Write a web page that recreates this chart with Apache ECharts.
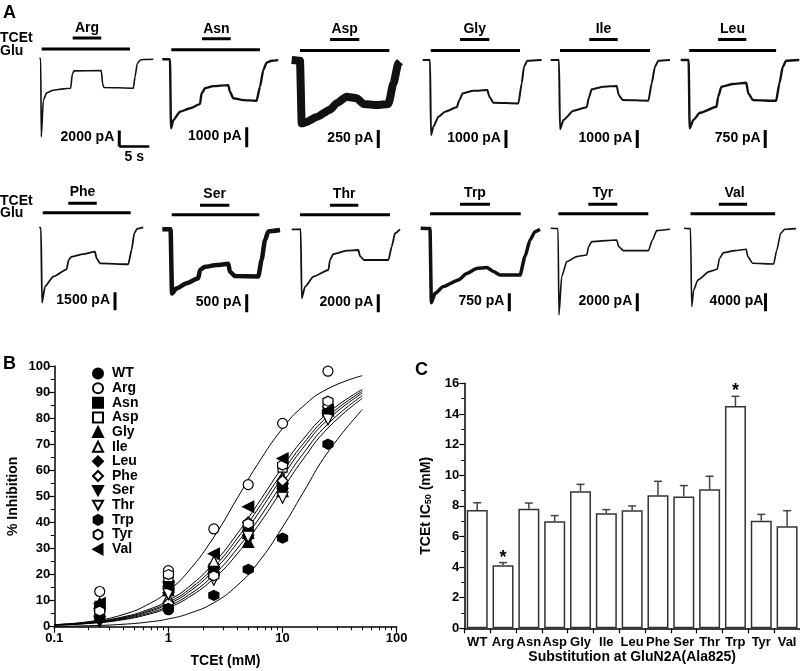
<!DOCTYPE html>
<html>
<head>
<meta charset="utf-8">
<script src="https://cdn.jsdelivr.net/npm/echarts@6/dist/echarts.min.js"></script>
<style>
  html, body { margin: 0; padding: 0; background: #fff; }
  #chart { width: 800px; height: 671px; }
</style>
</head>
<body>
<div id="chart"></div>
<script>
var FONT = '"Liberation Sans", Arial, sans-serif';

// ---- Panel A: whole-cell current traces, [time (s), current (pA)] ----
var traceNames = ['Arg', 'Asn', 'Asp', 'Gly', 'Ile', 'Leu', 'Phe', 'Ser', 'Thr', 'Trp', 'Tyr', 'Val'];
var scalePA = [2000, 1000, 250, 1000, 1000, 750, 1500, 500, 2000, 750, 2000, 4000];
var gluOn = [0.4, 1.5, 1.38, 1.33, 1.55, 1.43, 0.57, 1.57, 1.38, 1.55, 1.27, 1.12];
var gluOff = [15.12, 16.28, 16.27, 16.22, 16.55, 16, 15.23, 16.17, 16.38, 16.67, 16.27, 15.72];
var tcetOn = [5.57, 6.62, 6.38, 6.22, 6.43, 6.27, 4.83, 6.28, 6.38, 6.55, 6.27, 6];
var tcetOff = [10.33, 11.4, 11.27, 11.1, 11.17, 11, 9.57, 11.17, 11.1, 11.55, 11.1, 10.88];

var argTrace = [[0,0],[0.23,0],[0.33,-9800],[0.67,-5210],[1.23,-4300],[2.33,-3960],[4,-3800],[5.23,-3710],[5.5,-1960],[5.78,-1550],[10.33,-1500],[10.57,-3210],[10.78,-3620],[15.67,-3710],[15.95,-2300],[16.33,-625],[16.78,-210],[17.33,-125],[19,-90]];
var asnTrace = [[0,0],[1.28,0],[1.45,-3450],[1.83,-3040],[2.95,-2620],[4.62,-2450],[6.28,-2240],[6.55,-1700],[7.12,-1450],[8.5,-1340],[11,-1290],[11.28,-1620],[11.83,-1950],[13.5,-2040],[15.72,-2070],[16.28,-1370],[16.83,-540],[17.38,-170],[18.22,-70],[19.33,-40]];
var aspTrace = [[0,0],[1.38,-10],[1.67,-880],[2.5,-860],[4.17,-790],[6.38,-690],[7.5,-600],[9.17,-510],[10.83,-530],[11.95,-610],[14.17,-625],[16.12,-610],[16.95,-325],[17.78,-45],[18.05,-25]];
var glyTrace = [[0,0],[1.22,0],[1.38,-4170],[1.78,-3710],[2.62,-3150],[3.72,-2870],[5.67,-2630],[6.12,-2220],[6.67,-1850],[8.45,-1710],[10.78,-1670],[11.12,-2040],[11.78,-2370],[15.95,-2410],[16.5,-1300],[16.88,-370],[17.45,-40],[19.83,0]];
var ileTrace = [[0,0],[1.38,0],[1.55,-3850],[2.12,-3340],[3.78,-2820],[6,-2630],[6.33,-2130],[6.83,-1630],[8.78,-1480],[11,-1440],[11.33,-1940],[12,-2220],[16.28,-2260],[16.83,-1300],[17.38,-370],[17.95,-40],[19.88,0]];
var leuTrace = [[0,0],[1.33,0],[1.5,-2850],[2.12,-2500],[3.22,-2200],[6,-1950],[6.28,-1530],[6.83,-1110],[8.78,-1000],[11,-950],[11.33,-1390],[12.12,-1670],[16,-1700],[16.55,-970],[17.12,-280],[17.67,-30],[19.88,0]];
var pheTrace = [[0,0],[0.28,-80],[0.45,-6280],[0.95,-4940],[2.33,-4110],[4.55,-3500],[4.88,-2730],[5.38,-2440],[7.33,-2230],[9.28,-2030],[9.55,-2590],[10.12,-3000],[14.83,-3080],[15.38,-1890],[15.83,-500],[16.33,-110],[17.33,0]];
var serTrace = [[0,0],[1.38,0],[1.62,-1780],[2.38,-1640],[4.05,-1500],[6,-1360],[6.28,-1130],[7.12,-1040],[9.05,-990],[11,-960],[11.28,-1180],[12.12,-1300],[16,-1310],[16.55,-850],[17.12,-300],[17.67,-60],[19.62,-20]];
var thrTrace = [[0,0],[1.5,0],[1.67,-7670],[2.22,-6370],[3.62,-5260],[6.12,-4520],[6.38,-3410],[6.95,-2740],[9.17,-2370],[11.12,-2300],[11.38,-2970],[12.05,-3410],[16.12,-3410],[16.67,-1920],[17.22,-440],[18.05,0]];
var trpTrace = [[0,0],[1.55,-10],[1.78,-3100],[2.38,-2710],[3.78,-2430],[6.28,-2150],[7.67,-1880],[9.33,-1670],[11,-1630],[12.12,-1800],[13.22,-1950],[16.55,-1950],[17.38,-1180],[18.22,-490],[19.05,-140],[19.88,-40]];
var tyrTrace = [[0,0],[1.22,-30],[1.38,-9630],[1.83,-5370],[2.67,-3700],[4.33,-3150],[6,-2970],[6.33,-2030],[6.83,-1480],[9.33,-1370],[11,-1300],[11.33,-2030],[12.12,-2480],[16.28,-2480],[16.95,-1300],[17.67,-260],[19.88,-110]];
var valTrace = [[0,0],[1.12,-70],[1.33,-17400],[1.67,-13710],[2.38,-11490],[4.33,-9620],[5.72,-9110],[6.12,-6670],[6.83,-5400],[8.78,-4960],[10.72,-4670],[11,-6290],[11.83,-7780],[15.45,-7930],[16,-4820],[16.67,-1110],[17.38,-220],[19.33,-70]];
var traces = [argTrace, asnTrace, aspTrace, glyTrace, ileTrace, leuTrace, pheTrace, serTrace, thrTrace, trpTrace, tyrTrace, valTrace];

// ---- Panel B: % inhibition vs TCEt (mM) ----
var conc = [0.25, 1, 2.5, 5, 10, 25];
var groups = ['WT', 'Arg', 'Asn', 'Asp', 'Gly', 'Ile', 'Leu', 'Phe', 'Ser', 'Thr', 'Trp', 'Tyr', 'Val'];
var inhWT  = [8, 6.5, 23, 38, 53.5, 83];
var inhArg = [13.5, 21.5, 37.5, 54.5, 78, 98];
var inhAsn = [8, 16, 22, 36, 54, 84];
var inhAsp = [6, 19, 22.5, 38.5, 61, 85.5];
var inhGly = [9, 14, 24, 32.5, 52, 84];
var inhIle = [6, 11, 25, 36, 57, 83];
var inhLeu = [7, 13, 21, 37, 55, 82.5];
var inhPhe = [6, 9, 19.5, 40, 56, 84.5];
var inhSer = [2, 15, 21, 33, 51, 80];
var inhThr = [5, 12.5, 18, 34.5, 49.5, 79.5];
var inhTrp = [3, 7, 12, 22, 34, 70];
var inhTyr = [6, 20, 19.5, 39.5, 62, 86.5];
var inhVal = [9, 15.5, 28, 46, 64.5, 83];
var inh = [inhWT, inhArg, inhAsn, inhAsp, inhGly, inhIle, inhLeu, inhPhe, inhSer, inhThr, inhTrp, inhTyr, inhVal];

// fitted curves read along these concentrations
var fitX = [0.1, 0.2, 0.4, 0.7, 1, 1.5, 2.5, 4, 6, 10, 15, 25, 50];
var fitArg = [0.79, 1.93, 4.63, 9.1, 13.8, 21.3, 34.4, 49.2, 62.1, 76.1, 84.4, 91.3, 96.3];
var fitTrp = [0.15, 0.38, 0.93, 1.91, 3.0, 5.0, 9.2, 15.8, 24.1, 38.2, 51.1, 67.0, 83.3];
var fitB1 = [0.79, 1.73, 3.76, 6.94, 10.1, 15.2, 24.4, 35.6, 46.8, 61.3, 71.7, 82.0, 91.0];
var fitB2 = [0.73, 1.60, 3.48, 6.41, 9.36, 14.1, 22.9, 33.8, 44.8, 59.3, 69.9, 80.7, 90.3];
var fitB3 = [0.67, 1.48, 3.23, 5.99, 8.73, 13.2, 21.6, 32.1, 42.9, 57.5, 68.4, 79.5, 89.6];
var fitB4 = [0.61, 1.34, 2.93, 5.43, 7.96, 12.1, 19.9, 29.9, 40.5, 55.0, 66.1, 77.8, 88.6];
var fitB5 = [0.56, 1.22, 2.67, 4.98, 7.3, 11.2, 18.5, 27.9, 38.3, 52.7, 64.0, 76.2, 87.6];
var fits = [fitArg, fitTrp, fitB1, fitB2, fitB3, fitB4, fitB5];
var minorConc = [0.2, 0.3, 0.4, 0.5, 0.6, 0.7, 0.8, 0.9, 2, 3, 4, 5, 6, 7, 8, 9, 20, 30, 40, 50, 60, 70, 80, 90];

// ---- Panel C: TCEt IC50 (mM) ----
var ic50Mean = [7.73, 4.11, 7.81, 6.99, 8.95, 7.51, 7.71, 8.69, 8.6, 9.08, 14.52, 7.03, 6.66];
var ic50Upper = [8.2, 4.29, 8.18, 7.36, 9.4, 7.75, 7.99, 9.6, 9.32, 9.93, 15.15, 7.44, 7.68];
var ic50Sig = [false, true, false, false, false, false, false, false, false, false, true, false, false];

// ---- layout (px) ----
var traceX0 = [39.3, 162.3, 291.7, 422.7, 550.7, 680.7, 39.3, 162.3, 291.7, 420.7, 550.7, 684];
var traceBase = [58.5, 59.3, 60, 60, 60, 60, 227.3, 229.3, 229.3, 228.3, 228.3, 228.3];
var scaleBarPx = [16, 20, 18, 18, 18, 18, 18, 18, 18, 18, 18, 18];
var scaleBarT = [13.33, 14.07, 14.43, 13.88, 14.43, 14.17, 12.62, 14.07, 14.43, 14.77, 14.43, 14.05];
var traceWidth = [1.6, 2.4, 8, 2, 2, 2.4, 1.8, 4.5, 1.8, 3.5, 1.6, 1.6];
var pxPerSec = 6;

var grids = [], xAxes = [], yAxes = [], series = [], graphics = [];

function txt(s, x, y, size, align, vAlign) {
  return {
    type: 'text', silent: true,
    style: { text: s, x: x, y: y, fill: '#000', font: 'bold ' + size + 'px ' + FONT,
             align: align || 'center', verticalAlign: vAlign || 'middle' }
  };
}

traces.forEach(function(tr, i) {
  var k = scalePA[i] / scaleBarPx[i];
  var row = i < 6 ? 0 : 1;
  var base = traceBase[i];
  var gluPx = row === 0 ? 9.5 : 14.5;
  var tcetPx = row === 0 ? 20.5 : 24;
  var labelPx = row === 0 ? 30.5 : 35;
  var barBottomPx = row === 0 ? 88 : 83;
  grids.push({ left: traceX0[i], top: base - 30, width: 20 * pxPerSec, height: 125 });
  xAxes.push({ gridIndex: i, type: 'value', min: 0, max: 20, show: false });
  yAxes.push({ gridIndex: i, type: 'value', min: -95 * k, max: 30 * k, show: false });
  var common = { type: 'line', xAxisIndex: i, yAxisIndex: i, showSymbol: false, symbol: 'none', silent: true, clip: false };
  series.push(Object.assign({}, common, {
    data: tr, smooth: 0.2, smoothMonotone: 'x',
    lineStyle: { color: '#111', width: traceWidth[i], join: 'round' }
  }));
  series.push(Object.assign({}, common, {
    data: [[gluOn[i], gluPx * k], [gluOff[i], gluPx * k]],
    lineStyle: { color: '#000', width: 3 }
  }));
  series.push(Object.assign({}, common, {
    data: [[tcetOn[i], tcetPx * k], [tcetOff[i], tcetPx * k]],
    lineStyle: { color: '#000', width: 3 }
  }));
  var yb = -barBottomPx * k;
  series.push(Object.assign({}, common, {
    data: [[scaleBarT[i], yb], [scaleBarT[i], yb + scalePA[i]]],
    lineStyle: { color: '#000', width: 3 }
  }));
  if (i === 0) {
    series.push(Object.assign({}, common, {
      data: [[scaleBarT[i], yb], [scaleBarT[i] + 5, yb]],
      lineStyle: { color: '#000', width: 2.5 }
    }));
    graphics.push(txt('5 s', traceX0[i] + (scaleBarT[i] + 2.5) * pxPerSec, base + barBottomPx + 10.5, 14));
  }
  graphics.push(txt(traceNames[i], traceX0[i] + (tcetOn[i] + tcetOff[i]) / 2 * pxPerSec, base - labelPx, 14));
  graphics.push(txt(scalePA[i] + ' pA', traceX0[i] + scaleBarT[i] * pxPerSec - 5,
                    base + barBottomPx - scaleBarPx[i] / 2 - 1, 14, 'right'));
});

graphics.push(txt('A', 3, 13, 18, 'left'));
graphics.push(txt('TCEt', 0, 38.5, 14, 'left'));
graphics.push(txt('Glu', 0, 51.5, 14, 'left'));
graphics.push(txt('TCEt', 0, 201.5, 14, 'left'));
graphics.push(txt('Glu', 0, 213.5, 14, 'left'));
graphics.push(txt('B', 3, 364, 18, 'left'));
graphics.push(txt('C', 415, 370, 18, 'left'));

// ---- Panel B axes ----
var gB = grids.length;
grids.push({ left: 54.3, top: 366, width: 342.4, height: 260.7 });
var axisLabelStyle = { color: '#000', fontWeight: 'bold', fontSize: 13, fontFamily: FONT };
var xB = xAxes.length;
xAxes.push({
  gridIndex: gB, type: 'log', logBase: 10, min: 0.1, max: 100, position: 'bottom',
  name: 'TCEt (mM)', nameLocation: 'middle', nameGap: 27,
  nameTextStyle: { color: '#000', fontWeight: 'bold', fontSize: 14, fontFamily: FONT },
  axisLine: { show: true, lineStyle: { color: '#000', width: 1.5 } },
  axisTick: { show: true, length: 6, lineStyle: { color: '#000', width: 1.2 } },
  axisLabel: Object.assign({ margin: 5 }, axisLabelStyle),
  splitLine: { show: false }
});
xAxes.push({
  gridIndex: gB, type: 'log', logBase: 10, min: 0.1, max: 100, position: 'bottom',
  axisLine: { show: false }, axisLabel: { show: false }, splitLine: { show: false },
  axisTick: { show: true, length: 3.5, customValues: minorConc, lineStyle: { color: '#000', width: 1 } }
});
var yB = yAxes.length;
yAxes.push({
  gridIndex: gB, type: 'value', min: 0, max: 100, interval: 10,
  name: '% Inhibition', nameLocation: 'middle', nameGap: 34, nameRotate: 90,
  nameTextStyle: { color: '#000', fontWeight: 'bold', fontSize: 14, fontFamily: FONT },
  axisLine: { show: true, lineStyle: { color: '#000', width: 1.5 } },
  axisTick: { show: true, length: 6, lineStyle: { color: '#000', width: 1.2 } },
  minorTick: { show: true, splitNumber: 2, length: 3.5, lineStyle: { color: '#000', width: 1 } },
  axisLabel: Object.assign({ margin: 4 }, axisLabelStyle),
  splitLine: { show: false }
});

fits.forEach(function(f) {
  series.push({
    type: 'line', xAxisIndex: xB, yAxisIndex: yB, symbol: 'none', silent: true, smooth: true,
    data: fitX.map(function(x, j) { return [x, f[j]]; }),
    lineStyle: { color: '#000', width: 1 }, z: 2
  });
});

var triDown = 'path://M0,0 L10,0 L5,9 Z';
var triLeft = 'path://M9,0 L9,10 L0,5 Z';
var hexagon = 'path://M5,0 L9.33,2.5 L9.33,7.5 L5,10 L0.67,7.5 L0.67,2.5 Z';
var symbols = ['circle', 'circle', 'rect', 'rect', 'triangle', 'triangle', 'diamond', 'diamond', triDown, triDown, hexagon, hexagon, triLeft];
var filled = [true, false, true, false, true, false, true, false, true, false, true, false, true];
var symSize = [10, 10, 9, 9, 11, 11, 11, 11, 11, 11, 10, 10, 11];

groups.forEach(function(g, i) {
  series.push({
    name: g, type: 'scatter', xAxisIndex: xB, yAxisIndex: yB, silent: true,
    symbol: symbols[i], symbolSize: symSize[i],
    data: conc.map(function(c, j) { return [c, inh[i][j]]; }),
    itemStyle: { color: filled[i] ? '#000' : '#fff', borderColor: '#000', borderWidth: 1.2, opacity: 1 },
    z: 3
  });
});

// ---- Panel C axes ----
var gC = grids.length;
grids.push({ left: 464.3, top: 383.3, width: 335.7, height: 245 });
var xC = xAxes.length;
xAxes.push({
  gridIndex: gC, type: 'category', data: groups,
  name: 'Substitution at GluN2A(Ala825)', nameLocation: 'middle', nameGap: 19,
  nameTextStyle: { color: '#000', fontWeight: 'bold', fontSize: 14, fontFamily: FONT },
  axisLine: { show: true, lineStyle: { color: '#000', width: 1.5 } },
  axisTick: { show: true, length: 5, interval: 0, lineStyle: { color: '#000', width: 1.2 } },
  axisLabel: Object.assign({ margin: 8, interval: 0 }, axisLabelStyle)
});
var yC = yAxes.length;
yAxes.push({
  gridIndex: gC, type: 'value', min: 0, max: 16, interval: 2,
  name: '{a|TCEt IC}{b|50}{a| (mM)}', nameLocation: 'middle', nameGap: 31, nameRotate: 90,
  nameTextStyle: {
    color: '#000', fontWeight: 'bold', fontSize: 14, fontFamily: FONT,
    rich: {
      a: { color: '#000', fontWeight: 'bold', fontSize: 14, fontFamily: FONT },
      b: { color: '#000', fontWeight: 'bold', fontSize: 9, fontFamily: FONT, verticalAlign: 'bottom', padding: [6, 0, 0, 0] }
    }
  },
  axisLine: { show: true, lineStyle: { color: '#000', width: 1.5 } },
  axisTick: { show: true, length: 5, lineStyle: { color: '#000', width: 1.2 } },
  minorTick: { show: true, splitNumber: 2, length: 3, lineStyle: { color: '#000', width: 1 } },
  axisLabel: Object.assign({ margin: 5 }, axisLabelStyle),
  splitLine: { show: false }
});

series.push({
  type: 'bar', xAxisIndex: xC, yAxisIndex: yC, silent: true, barWidth: 21,
  data: ic50Mean,
  itemStyle: { color: '#fff', borderColor: '#333', borderWidth: 1.5 }
});
series.push({
  type: 'custom', xAxisIndex: xC, yAxisIndex: yC, silent: true, z: 5,
  data: ic50Mean.map(function(m, i) { return [i, m, ic50Upper[i]]; }),
  renderItem: function(params, api) {
    var p0 = api.coord([api.value(0), api.value(1)]);
    var p1 = api.coord([api.value(0), api.value(2)]);
    var st = { stroke: '#444', lineWidth: 1.5 };
    var kids = [
      { type: 'line', shape: { x1: p0[0], y1: p0[1], x2: p1[0], y2: p1[1] }, style: st },
      { type: 'line', shape: { x1: p1[0] - 4, y1: p1[1], x2: p1[0] + 4, y2: p1[1] }, style: st }
    ];
    if (ic50Sig[params.dataIndex]) {
      kids.push({ type: 'text', style: { text: '*', x: p1[0], y: p1[1] - 5, fill: '#000',
        font: 'bold 18px ' + FONT, align: 'center', verticalAlign: 'middle' } });
    }
    return { type: 'group', children: kids };
  }
});

var chart = echarts.init(document.getElementById('chart'), null, { renderer: 'canvas' });
chart.setOption({
  animation: false,
  backgroundColor: '#fff',
  grid: grids,
  xAxis: xAxes,
  yAxis: yAxes,
  legend: {
    data: groups, orient: 'vertical', left: 92, top: 366.5, padding: 0,
    itemWidth: 10, itemHeight: 10, itemGap: 0.64, selectedMode: false,
    textStyle: { color: '#000', fontWeight: 'bold', fontSize: 14,
                 fontFamily: FONT, padding: [0, 0, 0, 4] }
  },
  series: series,
  graphic: graphics
});
</script>
</body>
</html>
